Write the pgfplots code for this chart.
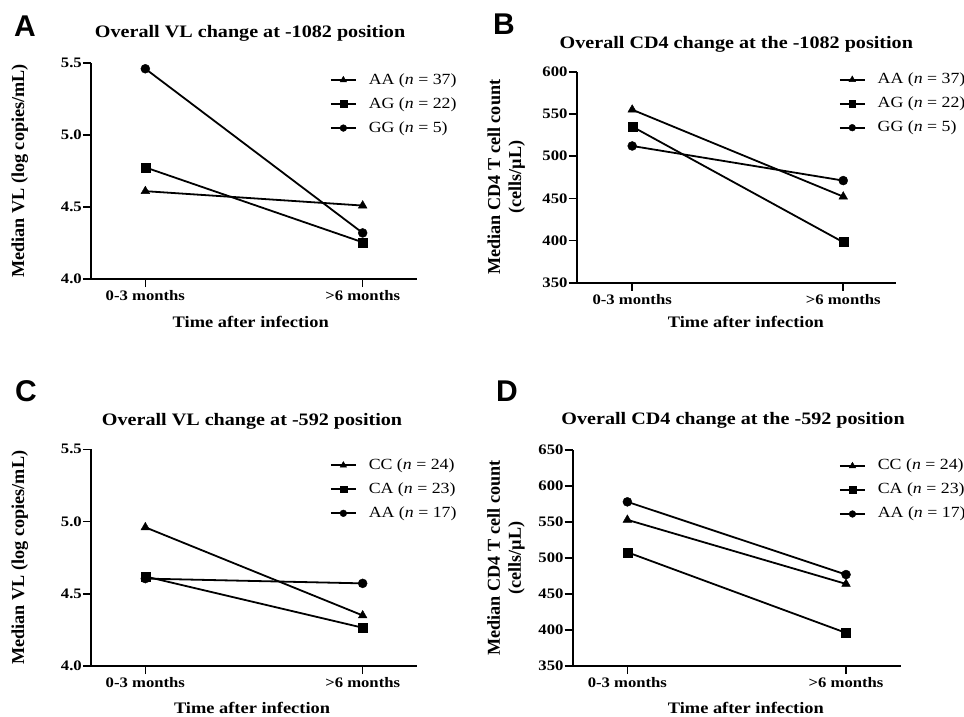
\documentclass[border=0pt]{standalone}
\usepackage{pgfplots}
\pgfplotsset{compat=1.18}
\usepackage{fontspec}
\setmainfont{Liberation Serif}[FakeStretch=1.15]
\newfontfamily\ylabfont{Liberation Serif}
\newfontfamily\arialfont{Liberation Sans}

\pgfplotsset{
 panel/.style={
  scale only axis,
  axis lines=left,
  axis line style={-, line width=1.6pt},
  xmin=-0.25, xmax=1.25,
  xtick={0,1}, xticklabels={0-3 months,>6 months},
  tick align=outside,
  major tick length=8pt,
  tick style={line width=1.6pt, black},
  /pgf/number format/assume math mode=true,
  ticklabel style={font=\fontsize{14.5}{14.5}\selectfont\bfseries},
  yticklabel style={inner xsep=1pt},
  xlabel style={font=\fontsize{16}{20}\selectfont\bfseries},
  ylabel style={font=\ylabfont\fontsize{18.2}{21}\selectfont\bfseries},
  title style={font=\fontsize{17.5}{20}\selectfont\bfseries, anchor=center, yshift=0pt},
  xlabel={Time after infection},
  legend style={draw=none, fill=none, inner sep=0pt, outer sep=0pt, anchor=north west,
    row sep=8pt, column sep=12pt, font=\fontsize{15.5}{15.5}\selectfont,
    nodes={inner sep=0pt, text height=12pt, text depth=4pt}},
  legend cell align=left,
  legend image code/.code={\draw[mark repeat=2,mark phase=2,#1, every mark/.append style={scale=0.75}] plot coordinates {(0pt,0pt) (12.5pt,0pt) (25pt,0pt)};},
 },
 vl/.style={ymin=4, ymax=5.5, ytick={4,4.5,5,5.5},
   yticklabel style={/pgf/number format/.cd, fixed, fixed zerofill, precision=1},
   ylabel={Median VL (log copies/mL)}},
 cdline/.style={line width=1.8pt, black, mark options={solid, line width=0.4pt}},
}

\begin{document}
\begin{tikzpicture}
\useasboundingbox (0,0) rectangle (964pt,-717pt);

% Panel A
\begin{axis}[panel, vl, at={(91pt,-63pt)}, anchor=north west, width=326pt, height=216pt,
  title={Overall VL change at -1082 position},
  title style={at={(axis description cs:0.488,1.111)}},
  xlabel style={at={(axis description cs:0.49,-0.2)}, anchor=center},
  ylabel style={at={(axis description cs:-0.218,0.5)}, anchor=center},
  legend style={at={(axis description cs:0.733,0.958)}}]
\addplot[cdline, mark=triangle*, mark size=5pt] coordinates {(0,4.61) (1,4.51)};
\addlegendentry{AA (\textit{n} = 37)}
\addplot[cdline, mark=square*, mark size=4.5pt] coordinates {(0,4.775) (1,4.255)};
\addlegendentry{AG (\textit{n} = 22)}
\addplot[cdline, mark=*, mark size=4.5pt] coordinates {(0,5.46) (1,4.32)};
\addlegendentry{GG (\textit{n} = 5)}
\end{axis}

% Panel B
\begin{axis}[panel, at={(576.7pt,-71.7pt)}, anchor=north west, width=319.3pt, height=211pt,
  xmin=-0.263,
  ymin=350, ymax=600, ytick={350,400,450,500,550,600},
  ylabel={Median CD4 T cell count\\(cells/µL)},
  ylabel style={align=center, at={(axis description cs:-0.221,0.5)}, anchor=center},
  title={Overall CD4 change at the -1082 position},
  title style={at={(axis description cs:0.5,1.100)}},
  xlabel style={at={(axis description cs:0.53,-0.186)}, anchor=center},
  legend style={at={(axis description cs:0.821,1.0)}}]
\addplot[cdline, mark=triangle*, mark size=5pt] coordinates {(0,555) (1,452)};
\addlegendentry{AA (\textit{n} = 37)}
\addplot[cdline, mark=square*, mark size=4.5pt] coordinates {(0,535) (1,398)};
\addlegendentry{AG (\textit{n} = 22)}
\addplot[cdline, mark=*, mark size=4.5pt] coordinates {(0,512) (1,471)};
\addlegendentry{GG (\textit{n} = 5)}
\end{axis}

% Panel C
\begin{axis}[panel, vl, at={(91pt,-449.3pt)}, anchor=north west, width=326pt, height=216.7pt,
  title={Overall VL change at -592 position},
  title style={at={(axis description cs:0.494,1.102)}},
  xlabel style={at={(axis description cs:0.494,-0.194)}, anchor=center},
  ylabel style={at={(axis description cs:-0.218,0.5)}, anchor=center},
  legend style={at={(axis description cs:0.733,0.963)}}]
\addplot[cdline, mark=triangle*, mark size=5pt] coordinates {(0,4.96) (1,4.35)};
\addlegendentry{CC (\textit{n} = 24)}
\addplot[cdline, mark=square*, mark size=4.5pt] coordinates {(0,4.62) (1,4.265)};
\addlegendentry{CA (\textit{n} = 23)}
\addplot[cdline, mark=*, mark size=4.5pt] coordinates {(0,4.605) (1,4.572)};
\addlegendentry{AA (\textit{n} = 17)}
\end{axis}

% Panel D
\begin{axis}[panel, at={(572.7pt,-450pt)}, anchor=north west, width=328pt, height=216pt,
  ymin=350, ymax=650, ytick={350,400,450,500,550,600,650},
  ylabel={Median CD4 T cell count\\(cells/µL)},
  ylabel style={align=center, at={(axis description cs:-0.203,0.5)}, anchor=center},
  title={Overall CD4 change at the -592 position},
  title style={at={(axis description cs:0.489,1.111)}},
  xlabel style={at={(axis description cs:0.528,-0.194)}, anchor=center},
  legend style={at={(axis description cs:0.812,0.963)}}]
\addplot[cdline, mark=triangle*, mark size=5pt] coordinates {(0,553) (1,464)};
\addlegendentry{CC (\textit{n} = 24)}
\addplot[cdline, mark=square*, mark size=4.5pt] coordinates {(0,508) (1,396)};
\addlegendentry{CA (\textit{n} = 23)}
\addplot[cdline, mark=*, mark size=4.5pt] coordinates {(0,578) (1,477)};
\addlegendentry{AA (\textit{n} = 17)}
\end{axis}

\node[font={\arialfont\bfseries\fontsize{30}{30}\selectfont}] at (25pt,-26pt) {A};
\node[font={\arialfont\bfseries\fontsize{30}{30}\selectfont}] at (504pt,-24pt) {B};
\node[font={\arialfont\bfseries\fontsize{30}{30}\selectfont}] at (26pt,-391pt) {C};
\node[font={\arialfont\bfseries\fontsize{30}{30}\selectfont}] at (507pt,-391pt) {D};
\end{tikzpicture}
\end{document}
